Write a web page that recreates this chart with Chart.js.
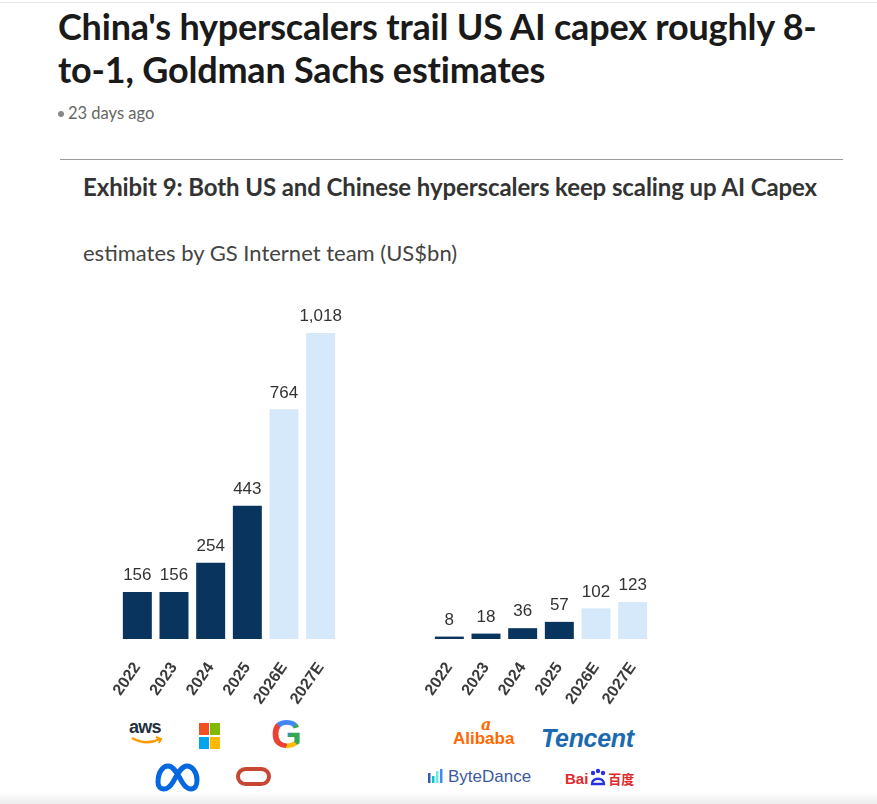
<!DOCTYPE html>
<html>
<head>
<meta charset="utf-8">
<script src="https://cdn.jsdelivr.net/npm/chart.js@4.4.1/dist/chart.umd.min.js"></script>
<style>
  html, body { margin: 0; padding: 0; background: #fff; }
  body { width: 877px; height: 804px; position: relative; overflow: hidden; font-family: Lato, "Noto Sans", sans-serif; }
  .topline { position: absolute; left: 0; top: 2px; width: 877px; height: 1px; background: #e6e6e6; }
  h1 { position: absolute; left: 58px; top: 5px; margin: 0; font-size: 36px; line-height: 43px; font-weight: 700; color: #1a1a1a; letter-spacing: -0.2px; white-space: nowrap; }
  .ago { position: absolute; left: 58px; top: 103px; font-size: 16.5px; color: #666; }
  .ago .dot { display: inline-block; width: 6px; height: 6px; border-radius: 3px; background: #888; margin-right: 4px; vertical-align: 2px; }
  .rule { position: absolute; left: 60px; top: 159px; width: 783px; height: 1px; background: #9a9a9a; }
  .exh { position: absolute; left: 83px; top: 172px; font-size: 24px; font-weight: 700; color: #333; white-space: nowrap; letter-spacing: -0.1px; }
  .sub { position: absolute; left: 83px; top: 239px; font-size: 22px; color: #444; white-space: nowrap; }
  .chart { position: absolute; }
  .logo { position: absolute; }
  .bottomfade { position: absolute; left: 0; top: 792px; width: 877px; height: 12px; background: linear-gradient(#fff, #ececec); }
</style>
</head>
<body>
<div class="topline"></div>
<h1>China's hyperscalers trail US AI capex roughly 8-<br>to-1, Goldman Sachs estimates</h1>
<div class="ago"><span class="dot"></span>23 days ago</div>
<div class="rule"></div>
<div class="exh">Exhibit 9: Both US and Chinese hyperscalers keep scaling up AI Capex</div>
<div class="sub">estimates by GS Internet team (US$bn)</div>

<div class="chart" style="left:100px;top:300px;width:260px;height:410px"><canvas id="usChart"></canvas></div>
<div class="chart" style="left:412px;top:300px;width:260px;height:410px"><canvas id="cnChart"></canvas></div>

<!-- US logos -->
<div class="logo" style="left:129px;top:717px;width:36px;height:34px">
  <div style="font:bold 18px 'Liberation Sans',Arial;color:#232f3e;letter-spacing:-0.8px">aws</div>
  <svg width="36" height="12" style="position:absolute;left:0;top:19px"><path d="M3 2 Q17 10 31 3" stroke="#ff9900" stroke-width="2.4" fill="none"/><path d="M27 1 L32 3 L30 7" stroke="#ff9900" stroke-width="2" fill="none"/></svg>
</div>
<div class="logo" style="left:199px;top:723px;width:21px;height:26px">
  <div style="position:absolute;left:0;top:0;width:10px;height:12px;background:#f25022"></div>
  <div style="position:absolute;left:11px;top:0;width:10px;height:12px;background:#7fba00"></div>
  <div style="position:absolute;left:0;top:14px;width:10px;height:12px;background:#00a4ef"></div>
  <div style="position:absolute;left:11px;top:14px;width:10px;height:12px;background:#ffb900"></div>
</div>
<div class="logo" style="left:271px;top:712px;font:bold 40px 'Liberation Sans',Arial;background:conic-gradient(from -40deg at 55% 55%, #4285f4 0deg 70deg, #34a853 70deg 170deg, #fbbc05 170deg 230deg, #ea4335 230deg 360deg);-webkit-background-clip:text;background-clip:text;color:transparent">G</div>
<svg class="logo" style="left:154px;top:762px" width="46" height="30"><path d="M4 20 C4 10 9 4 14 4 C20 4 24 13 28 20 C31 25 34 27 37 27 C41 27 43 23 43 18 C43 10 38 4 33 4 C27 4 23 13 19 20 C16 25 13 27 10 27 C6 27 4 24 4 20 Z" stroke="#0668e1" stroke-width="5" fill="none" stroke-linejoin="round"/></svg>
<div class="logo" style="left:236px;top:767px;width:27px;height:11px;border:4px solid #c74634;border-radius:10px"></div>

<!-- China logos -->
<div class="logo" style="left:453px;top:718px;font:bold 17px 'Liberation Sans',Arial;color:#ff6a00;line-height:16px">
  <div style="padding-left:28px;font:italic bold 16px 'DejaVu Serif';line-height:13px">a</div>Alibaba
</div>
<div class="logo" style="left:541px;top:724px;font:italic bold 25px 'Liberation Sans',Arial;color:#1b6ab0;letter-spacing:-0.3px">Tencent</div>
<div class="logo" style="left:427px;top:767px;font:17px 'Liberation Sans',Arial;color:#3d5a9e;white-space:nowrap">
  <svg width="18" height="16" style="vertical-align:-2px;margin-right:3px"><rect x="1" y="5" width="2.5" height="10" fill="#325ab4"/><rect x="5" y="8" width="2.5" height="7" fill="#00c8d2"/><rect x="9" y="3" width="2.5" height="12" fill="#78e6dc"/><rect x="13" y="1" width="2.5" height="14" fill="#3c8cff"/></svg>ByteDance
</div>
<div class="logo" style="left:565px;top:768px;font:bold 15px 'Liberation Sans',Arial;color:#e02a2a;white-space:nowrap">Bai<svg width="20" height="20" style="vertical-align:-4px"><circle cx="5" cy="5" r="2.2" fill="#2932e1"/><circle cx="10" cy="3" r="2.2" fill="#2932e1"/><circle cx="15" cy="5" r="2.2" fill="#2932e1"/><path d="M4 16 C4 9 16 9 16 16 Z" fill="none" stroke="#2932e1" stroke-width="2.4"/></svg><span style="font:bold 13px 'Noto Sans CJK SC'">百度</span></div>

<div class="bottomfade"></div>

<script>
const years = ['2022', '2023', '2024', '2025', '2026E', '2027E'];
const usCapex = [156, 156, 254, 443, 764, 1018];
const cnCapex = [8, 18, 36, 57, 102, 123];
const isEstimate = [false, false, false, false, true, true];

const actualColor = '#08345e';
const estimateColor = '#d6e9fb';
const yMax = 1018;

const valueLabels = {
  id: 'valueLabels',
  afterDatasetsDraw(chart) {
    const ctx = chart.ctx;
    const meta = chart.getDatasetMeta(0);
    const values = chart.data.datasets[0].data;
    ctx.save();
    ctx.font = '17px "Liberation Sans", Arial';
    ctx.fillStyle = '#333';
    ctx.textAlign = 'center';
    ctx.textBaseline = 'bottom';
    meta.data.forEach((bar, i) => {
      ctx.fillText(values[i].toLocaleString('en-US'), bar.x, bar.y - 8);
    });
    ctx.restore();
  }
};

function makeChart(id, values) {
  return new Chart(document.getElementById(id).getContext('2d'), {
    type: 'bar',
    data: {
      labels: years,
      datasets: [{
        data: values,
        backgroundColor: isEstimate.map(e => e ? estimateColor : actualColor),
        borderWidth: 0,
        barPercentage: 0.79,
        categoryPercentage: 1.0,
      }],
    },
    options: {
      responsive: true,
      maintainAspectRatio: false,
      animation: false,
      layout: { padding: { top: 33, left: 19, right: 21, bottom: 0 } },
      plugins: {
        legend: { display: false },
        tooltip: { enabled: false },
      },
      scales: {
        x: {
          grid: { display: false },
          border: { display: false },
          ticks: {
            color: '#3a3a3a',
            font: { family: '"Liberation Sans", Arial', size: 16, weight: 'bold' },
            minRotation: 55,
            maxRotation: 55,
            padding: 12,
          },
          afterFit(scale) { scale.height = 71; },
        },
        y: {
          display: false,
          min: 0,
          max: yMax,
        },
      },
    },
    plugins: [valueLabels],
  });
}

makeChart('usChart', usCapex);
makeChart('cnChart', cnCapex);
</script>
</body>
</html>
